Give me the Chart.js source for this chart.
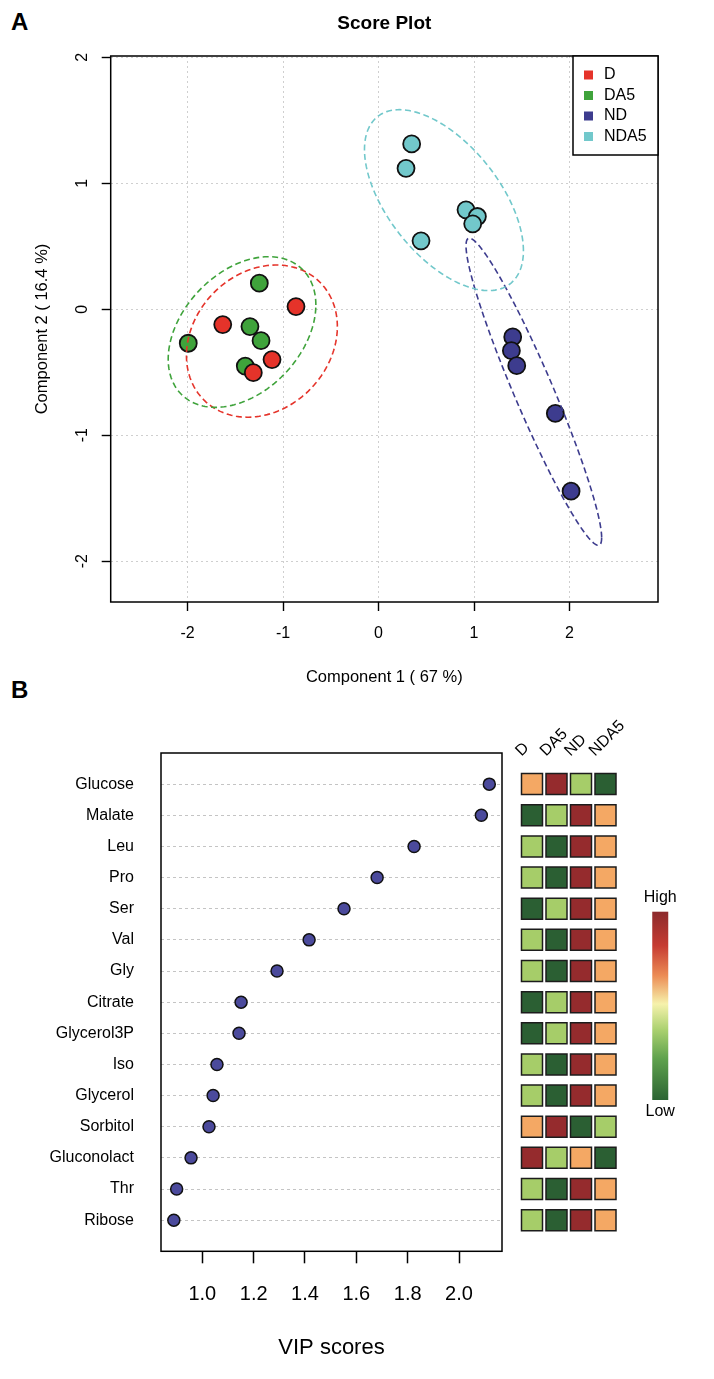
<!DOCTYPE html>
<html>
<head>
<meta charset="utf-8">
<script src="https://cdn.jsdelivr.net/npm/chart.js@4.4.0/dist/chart.umd.min.js"></script>
<style>
  html, body { margin: 0; padding: 0; background: #fff; }
  body { width: 714px; height: 1379px; position: relative; overflow: hidden; font-family: "Liberation Sans", Arial, sans-serif; }
  canvas { position: absolute; }
  .tag { position: absolute; font: bold 24px "Liberation Sans", Arial, sans-serif; color: #000; line-height: 28px; }
</style>
</head>
<body>
<div class="tag" style="left:11px;top:8px">A</div>
<div class="tag" style="left:11px;top:676px">B</div>
<canvas id="grafico1" width="714" height="700" style="left:0;top:0"></canvas>
<canvas id="grafico2" width="520" height="679" style="left:0;top:700px"></canvas>
<canvas id="grafico3" width="234" height="679" style="left:480px;top:700px"></canvas>
<script>
// ---- panel A: PLS-DA scores ----
const grupos = ['D', 'DA5', 'ND', 'NDA5'];
const coloresGrupo = ['#e5332a', '#3fa33b', '#3d3c8e', '#72c8cb'];

const dComp1 = [-0.864, -1.631, -1.115, -1.311];
const dComp2 = [0.021, -0.122, -0.400, -0.504];
const da5Comp1 = [-1.248, -1.346, -1.230, -1.395, -1.992];
const da5Comp2 = [0.207, -0.138, -0.250, -0.451, -0.270];
const ndComp1 = [1.405, 1.391, 1.447, 1.851, 2.016];
const ndComp2 = [-0.220, -0.329, -0.448, -0.827, -1.444];
const nda5Comp1 = [0.347, 0.288, 0.916, 1.035, 0.986, 0.445];
const nda5Comp2 = [1.312, 1.118, 0.789, 0.736, 0.678, 0.543];

// confidence ellipses: centre x, centre y, sd x, sd y, correlation
const elipseD = [-1.221, -0.253, 0.79, 0.604, 0.19];
const elipseDA5 = [-1.429, -0.181, 0.773, 0.598, 0.36];
const elipseND = [1.626, -0.655, 0.71, 1.219, -0.95];
const elipseNDA5 = [0.685, 0.866, 0.832, 0.718, -0.56];

const ticksComp1 = [-2, -1, 0, 1, 2];
const ticksComp2 = [-2, -1, 0, 1, 2];

// ---- panel B: VIP scores ----
const metabolitos = ['Glucose', 'Malate', 'Leu', 'Pro', 'Ser', 'Val', 'Gly', 'Citrate',
  'Glycerol3P', 'Iso', 'Glycerol', 'Sorbitol', 'Gluconolact', 'Thr', 'Ribose'];
const vip = [2.118, 2.087, 1.825, 1.681, 1.552, 1.416, 1.291, 1.151,
  1.143, 1.057, 1.042, 1.026, 0.956, 0.900, 0.889];
const ticksVip = [1.0, 1.2, 1.4, 1.6, 1.8, 2.0];

// relative level per group (1 low .. 4 high)
const nivelD = [3, 1, 2, 2, 1, 2, 2, 1, 1, 2, 2, 3, 4, 2, 2];
const nivelDA5 = [4, 2, 1, 1, 2, 1, 1, 2, 2, 1, 1, 4, 2, 1, 1];
const nivelND = [2, 4, 4, 4, 4, 4, 4, 4, 4, 4, 4, 1, 3, 4, 4];
const nivelNDA5 = [1, 3, 3, 3, 3, 3, 3, 3, 3, 3, 3, 2, 1, 3, 3];
const paleta = ['#2b5f33', '#a6cd69', '#f4a864', '#952b2d'];

const fuente = '"Liberation Sans", Arial, sans-serif';
Chart.defaults.font.family = fuente;
Chart.defaults.color = '#000';

const scoresX = [dComp1, da5Comp1, ndComp1, nda5Comp1];
const scoresY = [dComp2, da5Comp2, ndComp2, nda5Comp2];
const elipses = [elipseD, elipseDA5, elipseND, elipseNDA5];

const cajaPlugin = {
  id: 'caja',
  afterDraw(chart) {
    const { ctx, chartArea: a } = chart;
    ctx.save();
    ctx.strokeStyle = '#000';
    ctx.lineWidth = 1.5;
    ctx.strokeRect(a.left, a.top, a.right - a.left, a.bottom - a.top);
    ctx.restore();
  }
};

const elipsePlugin = {
  id: 'elipses',
  afterDatasetsDraw(chart) {
    const { ctx, scales: { x, y } } = chart;
    ctx.save();
    ctx.lineWidth = 1.6;
    ctx.setLineDash([6, 3.5]);
    elipses.forEach((e, i) => {
      const [cx, cy, sx, sy, r] = e;
      ctx.strokeStyle = coloresGrupo[i];
      ctx.beginPath();
      for (let k = 0; k <= 180; k++) {
        const t = k / 180 * 2 * Math.PI;
        const px = x.getPixelForValue(cx + sx * Math.cos(t));
        const py = y.getPixelForValue(cy + sy * (r * Math.cos(t) + Math.sqrt(1 - r * r) * Math.sin(t)));
        if (k === 0) ctx.moveTo(px, py); else ctx.lineTo(px, py);
      }
      ctx.closePath();
      ctx.stroke();
    });
    ctx.restore();
  }
};

const leyendaPlugin = {
  id: 'leyenda',
  afterDraw(chart) {
    const { ctx, chartArea: a } = chart;
    const w = 85, h = 99, x0 = a.right - w, y0 = a.top;
    ctx.save();
    ctx.fillStyle = '#fff';
    ctx.fillRect(x0, y0, w, h);
    ctx.strokeStyle = '#000';
    ctx.lineWidth = 1.5;
    ctx.strokeRect(x0, y0, w, h);
    ctx.font = '16px ' + fuente;
    ctx.textBaseline = 'middle';
    chart.data.datasets.forEach((ds, i) => {
      const yy = y0 + 19 + i * 20.5;
      ctx.fillStyle = ds.backgroundColor;
      ctx.fillRect(x0 + 11, yy - 4.5, 9, 9);
      ctx.fillStyle = '#000';
      ctx.fillText(ds.label, x0 + 31, yy);
    });
    ctx.restore();
  }
};

const tituloPlugin = {
  id: 'titulo',
  afterDraw(chart) {
    const { ctx, chartArea: a } = chart;
    ctx.save();
    ctx.font = 'bold 19px ' + fuente;
    ctx.fillStyle = '#000';
    ctx.textAlign = 'center';
    ctx.textBaseline = 'middle';
    ctx.fillText('Score Plot', (a.left + a.right) / 2, 24);
    ctx.restore();
  }
};

new Chart(document.querySelector('#grafico1'), {
  type: 'scatter',
  data: {
    datasets: grupos.map((g, i) => ({
      label: g,
      data: scoresX[i].map((v, k) => ({ x: v, y: scoresY[i][k] })),
      backgroundColor: coloresGrupo[i],
      borderColor: '#111',
      borderWidth: 1.8,
      pointRadius: 8.5,
      pointHoverRadius: 8.5
    }))
  },
  options: {
    responsive: false,
    animation: false,
    layout: { padding: { top: 56, right: 56, left: 0, bottom: 0 } },
    plugins: { legend: { display: false }, tooltip: { enabled: false } },
    scales: {
      x: {
        type: 'linear', min: -2.804, max: 2.926,
        afterBuildTicks: s => { s.ticks = ticksComp1.map(v => ({ value: v })); },
        afterFit: s => { s.height = 98; },
        grid: { color: '#cfcfcf', lineWidth: 1, tickLength: 9, tickColor: '#000', tickWidth: 1.4 },
        border: { display: false, dash: [2, 3] },
        ticks: { font: { size: 16 }, padding: 13, callback: v => String(v) },
        title: { display: true, text: 'Component 1 ( 67 %)', font: { size: 16.5 }, padding: { bottom: 13 } }
      },
      y: {
        type: 'linear', min: -2.324, max: 2.01,
        afterBuildTicks: s => { s.ticks = ticksComp2.map(v => ({ value: v })); },
        afterFit: s => { s.width = 110.7; },
        grid: { color: '#cfcfcf', lineWidth: 1, tickLength: 9, tickColor: '#000', tickWidth: 1.4 },
        border: { display: false, dash: [2, 3] },
        ticks: { font: { size: 16 }, minRotation: 90, maxRotation: 90, crossAlign: 'center', padding: 12, callback: v => String(v) },
        title: { display: true, text: 'Component 2 ( 16.4 %)', font: { size: 16.5 }, padding: { top: 33 } }
      }
    }
  },
  plugins: [elipsePlugin, cajaPlugin, leyendaPlugin, tituloPlugin]
});

// ---- panel B: dot chart ----
new Chart(document.querySelector('#grafico2'), {
  type: 'scatter',
  data: {
    datasets: [{
      label: 'VIP',
      data: vip.map((v, i) => ({ x: v, y: i + 1 })),
      backgroundColor: '#4b4a9c',
      borderColor: '#111',
      borderWidth: 1.5,
      pointRadius: 6,
      pointHoverRadius: 6
    }]
  },
  options: {
    responsive: false,
    animation: false,
    layout: { padding: { top: 53, right: 18, left: 0, bottom: 0 } },
    plugins: { legend: { display: false }, tooltip: { enabled: false } },
    scales: {
      x: {
        type: 'linear', min: 0.839, max: 2.1675,
        afterBuildTicks: s => { s.ticks = ticksVip.map(v => ({ value: v })); },
        afterFit: s => { s.height = 127.7; },
        grid: { drawOnChartArea: false, tickLength: 12, tickColor: '#000', tickWidth: 1.5 },
        border: { display: false },
        ticks: { font: { size: 20 }, padding: 19, callback: v => v.toFixed(1) },
        title: { display: true, text: 'VIP scores', font: { size: 22 }, padding: { bottom: 18 } }
      },
      y: {
        type: 'linear', reverse: true, min: 0, max: 16,
        afterBuildTicks: s => { s.ticks = metabolitos.map((m, i) => ({ value: i + 1 })); },
        afterFit: s => { s.width = 161; },
        grid: { color: '#c4c4c4', lineWidth: 1, drawTicks: false },
        border: { display: false, dash: [3, 3] },
        ticks: { font: { size: 16 }, padding: 27, callback: v => metabolitos[v - 1] }
      }
    }
  },
  plugins: [cajaPlugin]
});

// ---- panel B: heat map of group levels ----
const niveles = [nivelD, nivelDA5, nivelND, nivelNDA5];

const barraPlugin = {
  id: 'barra',
  afterDraw(chart) {
    const { ctx, chartArea: a } = chart;
    const x0 = a.right + 34.5, w = 16, y0 = 211.7, y1 = 400;
    const g = ctx.createLinearGradient(0, y0, 0, y1);
    g.addColorStop(0, '#8c2a2c');
    g.addColorStop(0.18, '#c63b32');
    g.addColorStop(0.34, '#ec8c55');
    g.addColorStop(0.49, '#f6f2ac');
    g.addColorStop(0.63, '#a9d06e');
    g.addColorStop(0.78, '#5fa24d');
    g.addColorStop(1, '#2b6433');
    ctx.save();
    ctx.fillStyle = g;
    ctx.fillRect(x0, y0, w, y1 - y0);
    ctx.fillStyle = '#000';
    ctx.font = '16px ' + fuente;
    ctx.textAlign = 'center';
    ctx.textBaseline = 'middle';
    ctx.fillText('High', x0 + w / 2, y0 - 14);
    ctx.fillText('Low', x0 + w / 2, y1 + 12);
    ctx.restore();
  }
};

new Chart(document.querySelector('#grafico3'), {
  type: 'scatter',
  data: {
    datasets: grupos.map((g, j) => ({
      label: g,
      data: niveles[j].map((n, i) => ({ x: j + 1, y: i + 1 })),
      backgroundColor: niveles[j].map(n => paleta[n - 1]),
      borderColor: '#1c1c1c',
      borderWidth: 1.5,
      pointStyle: 'rect',
      pointRadius: 14.85,
      pointHoverRadius: 14.85
    }))
  },
  options: {
    responsive: false,
    animation: false,
    layout: { padding: { top: 0, left: 39.75, right: 96.25, bottom: 127.7 } },
    plugins: { legend: { display: false }, tooltip: { enabled: false } },
    scales: {
      x: {
        type: 'linear', position: 'top', min: 0.5, max: 4.5,
        afterBuildTicks: s => { s.ticks = grupos.map((g, j) => ({ value: j + 1 })); },
        afterFit: s => { s.height = 62.3; },
        grid: { display: false, drawTicks: false },
        border: { display: false },
        ticks: { font: { size: 16 }, minRotation: 45, maxRotation: 45, padding: 2, callback: v => grupos[v - 1] }
      },
      y: { type: 'linear', display: false, reverse: true, min: 0.3, max: 16 }
    }
  },
  plugins: [barraPlugin]
});
</script>
</body>
</html>
